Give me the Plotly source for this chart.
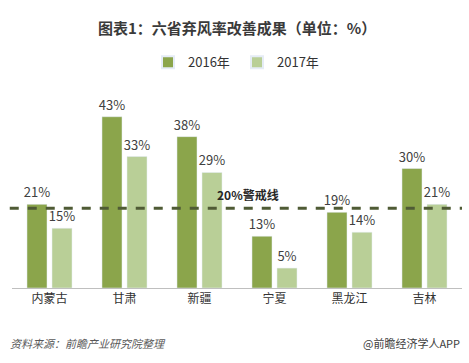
import plotly.graph_objects as go

provinces = ["内蒙古", "甘肃", "新疆", "宁夏", "黑龙江", "吉林"]
rate_2016 = [21, 43, 38, 13, 19, 30]
rate_2017 = [15, 33, 29, 5, 14, 21]
warning_level = 20
series_names = ["2016年", "2017年"]

FONT = "Noto Sans CJK SC, Microsoft YaHei, sans-serif"
C16 = "#8ba54b"
C17 = "#b9cf97"

fig = go.Figure()
fig.add_trace(go.Bar(
    x=provinces, y=rate_2016, name=series_names[0], marker_color=C16,
    text=[f"{v}%" for v in rate_2016], textposition="outside", constraintext="none",
    textfont=dict(size=13, color="#404040", family=FONT), cliponaxis=False))
fig.add_trace(go.Bar(
    x=provinces, y=rate_2017, name=series_names[1], marker_color=C17,
    text=[f"{v}%" for v in rate_2017], textposition="outside", constraintext="none",
    textfont=dict(size=13, color="#404040", family=FONT), cliponaxis=False))

fig.add_shape(type="line", xref="paper", yref="y", x0=-0.005, x1=1.0,
              y0=warning_level, y1=warning_level,
              line=dict(color="#4f5b35", width=3, dash="dash"))
fig.add_annotation(x=3, y=warning_level, xref="x", yref="y", text="<b>20%警戒线</b>",
                   showarrow=False, yshift=14, xshift=-27, yanchor="middle",
                   font=dict(size=12, color="#262626", family=FONT))

fig.add_annotation(xref="paper", yref="paper", x=0.5, y=1.0, yshift=73, yanchor="middle",
                   text="<b>图表1：六省弃风率改善成果（单位：%）</b>", showarrow=False,
                   font=dict(size=15, color="#3a3a3a", family=FONT))
fig.add_annotation(xref="paper", yref="paper", x=-0.01, xanchor="left", y=0, yshift=-55,
                   yanchor="middle",
                   text="<i>资料来源：前瞻产业研究院整理</i>", showarrow=False,
                   font=dict(size=11, color="#595959", family=FONT))
fig.add_annotation(xref="paper", yref="paper", x=1.0, xanchor="right", y=0, yshift=-55,
                   yanchor="middle",
                   text="@前瞻经济学人APP", showarrow=False,
                   font=dict(size=11, color="#404040", family=FONT))

fig.update_layout(
    width=469, height=363,
    margin=dict(l=12, r=7, t=100, b=75, autoexpand=False),
    paper_bgcolor="white", plot_bgcolor="white",
    bargap=0.333, bargroupgap=0.2,
    font=dict(family=FONT, color="#333333"),
    showlegend=True,
    legend=dict(orientation="h", x=0.5, xanchor="center", y=1.2, yanchor="middle",
                font=dict(size=13, color="#333333", family=FONT),
                itemwidth=30, itemsizing="constant", entrywidth=44),
    xaxis=dict(showline=True, linecolor="#bfbfbf", linewidth=1, ticks="",
               tickfont=dict(size=12, color="#333333", family=FONT)),
    yaxis=dict(range=[0, 47.2], visible=False, showgrid=False),
)

fig.write_html("out.html", config={"displayModeBar": False},
               post_script="document.body.style.margin='0';")
